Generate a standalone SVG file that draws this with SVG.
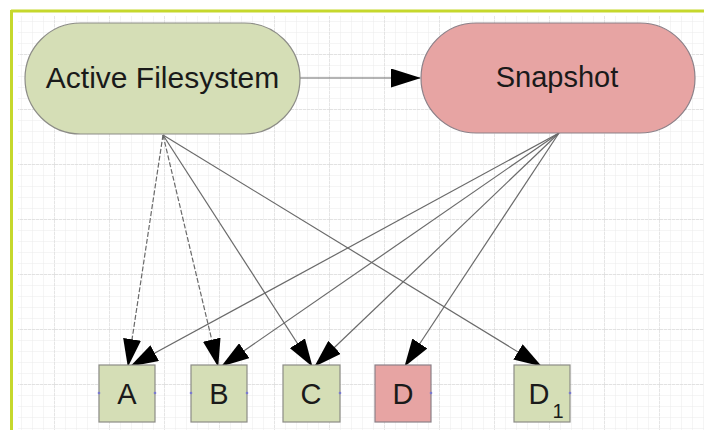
<svg xmlns="http://www.w3.org/2000/svg" width="704" height="430" viewBox="0 0 704 430">
<style>
  .lbl { font-family: "Liberation Sans", Arial, sans-serif; fill: #1a1a1a; text-anchor: middle; }
  .green { fill: #d5deb6; stroke: #8c8c86; stroke-width: 1.2; }
  .red { fill: #e7a4a3; stroke: #8c8088; stroke-width: 1.2; }
  .conn { fill: none; stroke: #6a6a6a; stroke-width: 1.2; }
  .dash { stroke-dasharray: 5 2; }
  .pt { fill: #7a7ad0; }
</style>
<defs>
  <pattern id="gridMinor" width="11" height="11" patternUnits="userSpaceOnUse">
    <path d="M11 0V11M0 11H11" fill="none" stroke="#ebebeb" stroke-width="1"/>
  </pattern>
  <pattern id="gridMajor" width="55" height="55" patternUnits="userSpaceOnUse">
    <path d="M55 0V55M0 55H55" fill="none" stroke="#dcdcdc" stroke-width="1.3" stroke-dasharray="3 1"/>
  </pattern>
  <marker id="ah" markerUnits="userSpaceOnUse" markerWidth="28" markerHeight="18" refX="27" refY="9" orient="auto">
    <path d="M0,0 L28,9 L0,18 Z" fill="#000"/>
  </marker>
  <marker id="ahBig" markerUnits="userSpaceOnUse" markerWidth="30" markerHeight="19" refX="29" refY="9.5" orient="auto">
    <path d="M0,0 L30,9.5 L0,19 Z" fill="#000"/>
  </marker>
</defs>
<rect x="0" y="0" width="704" height="430" fill="#ffffff"/>
<rect x="18" y="16" width="686" height="414" fill="url(#gridMinor)"/>
<rect x="18" y="16" width="686" height="414" fill="url(#gridMajor)"/>
<g id="frame">
  <line x1="11" y1="11" x2="704" y2="11" stroke="#c6d82c" stroke-width="3"/>
  <line x1="11.5" y1="10" x2="11.5" y2="430" stroke="#c6d82c" stroke-width="3"/>
</g>
<g id="connectors">
  <line class="conn" x1="300" y1="78" x2="420" y2="78" marker-end="url(#ahBig)"/>
  <line class="conn dash" x1="163" y1="135" x2="128" y2="366" marker-end="url(#ah)"/>
  <line class="conn dash" x1="163" y1="135" x2="218" y2="366" marker-end="url(#ah)"/>
  <line class="conn" x1="163" y1="135" x2="312" y2="366" marker-end="url(#ah)"/>
  <line class="conn" x1="163" y1="135" x2="541" y2="366" marker-end="url(#ah)"/>
  <line class="conn" x1="559" y1="133" x2="131" y2="366" marker-end="url(#ah)"/>
  <line class="conn" x1="559" y1="133" x2="222" y2="366" marker-end="url(#ah)"/>
  <line class="conn" x1="559" y1="133" x2="315" y2="366" marker-end="url(#ah)"/>
  <line class="conn" x1="559" y1="133" x2="405" y2="366" marker-end="url(#ah)"/>
</g>
<g id="active">
  <rect class="green" x="25" y="23" width="275" height="111" rx="55.5" ry="55.5"/>
  <text class="lbl" x="162.5" y="88" font-size="30">Active Filesystem</text>
</g>
<g id="snapshot">
  <rect class="red" x="421" y="23" width="274" height="110" rx="55" ry="55"/>
  <text class="lbl" x="557" y="87" font-size="29">Snapshot</text>
</g>
<g id="A">
  <rect class="green" x="99" y="365" width="56" height="57"/>
  <text class="lbl" x="127" y="404" font-size="29">A</text>
  <circle class="pt" cx="99" cy="393" r="1.3"/><circle class="pt" cx="155" cy="393" r="1.3"/>
</g>
<g id="B">
  <rect class="green" x="191" y="365" width="56" height="57"/>
  <text class="lbl" x="219" y="404" font-size="29">B</text>
  <circle class="pt" cx="191" cy="393" r="1.3"/><circle class="pt" cx="247" cy="393" r="1.3"/>
</g>
<g id="C">
  <rect class="green" x="283" y="365" width="57" height="57"/>
  <text class="lbl" x="311" y="404" font-size="29">C</text>
  <circle class="pt" cx="340" cy="393" r="1.3"/>
</g>
<g id="D">
  <rect class="red" x="375" y="365" width="56" height="57"/>
  <text class="lbl" x="403" y="404" font-size="29">D</text>
  <circle class="pt" cx="431" cy="393" r="1.3"/>
</g>
<g id="D1">
  <rect class="green" x="514" y="365" width="56" height="57"/>
  <text class="lbl" x="539" y="404" font-size="29">D</text>
  <text class="lbl" x="558" y="418" font-size="20">1</text>
  <circle class="pt" cx="570" cy="393" r="1.3"/>
</g>
</svg>
